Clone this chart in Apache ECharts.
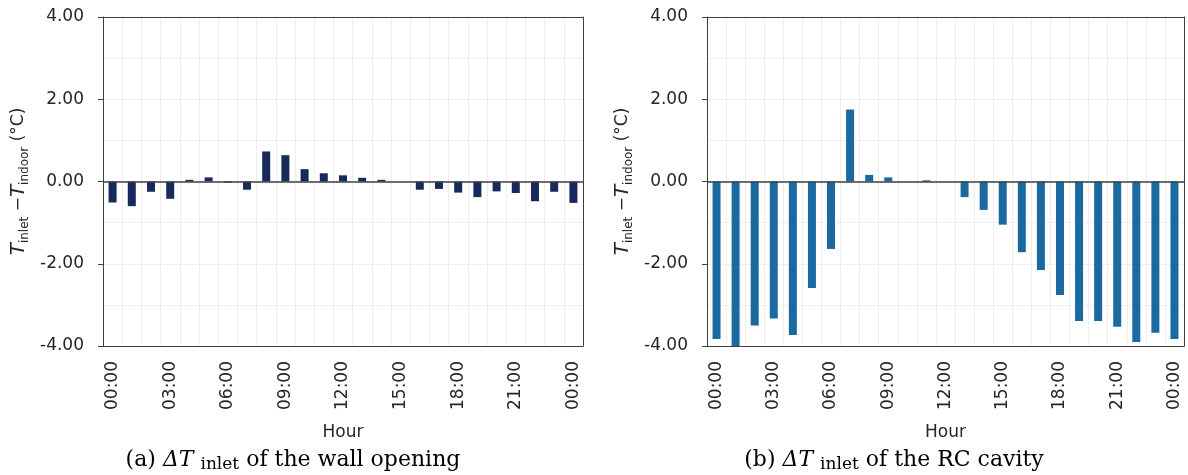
<!DOCTYPE html>
<html>
<head>
<meta charset="utf-8">
<script src="https://cdn.jsdelivr.net/npm/echarts@6/dist/echarts.min.js"></script>
<style>
  html, body { margin: 0; padding: 0; background: #ffffff; }
  #chart { width: 1188px; height: 475px; }
</style>
</head>
<body>
<div id="chart"></div>
<script>
// Hourly categories over one day, ending back at midnight
const hours = ['00:00','01:00','02:00','03:00','04:00','05:00','06:00','07:00','08:00','09:00',
  '10:00','11:00','12:00','13:00','14:00','15:00','16:00','17:00','18:00','19:00',
  '20:00','21:00','22:00','23:00','00:00'];

// Inlet minus indoor temperature (°C), wall opening
const wallOpening = [-0.51, -0.60, -0.25, -0.42, 0.04, 0.10, -0.03, -0.20, 0.73, 0.64,
  0.30, 0.20, 0.15, 0.09, 0.04, 0.00, -0.20, -0.18, -0.27, -0.38,
  -0.24, -0.28, -0.48, -0.25, -0.52];

// Inlet minus indoor temperature (°C), RC cavity
const rcCavity = [-3.83, -4.00, -3.50, -3.33, -3.73, -2.59, -1.64, 1.75, 0.16, 0.10,
  0.00, 0.03, 0.00, -0.38, -0.69, -1.05, -1.72, -2.15, -2.76, -3.39,
  -3.39, -3.53, -3.90, -3.68, -3.83];

const yMin = -4, yMax = 4, yStep = 2;

const SANS = '"DejaVu Sans", sans-serif';
const SERIF = '"DejaVu Serif", serif';
const TEXT = '#262626';
const FRAME = '#404040';
const GRID_LINE = '#eeeeee';

const chart = echarts.init(document.getElementById('chart'), null, { renderer: 'canvas' });

function bottomX(gridIndex) {
  return {
    type: 'category', gridIndex: gridIndex, data: hours, position: 'bottom',
    boundaryGap: true,
    name: 'Hour', nameLocation: 'middle', nameGap: 78,
    nameTextStyle: { fontFamily: SANS, fontSize: 17, color: TEXT },
    axisLine: { onZero: false, lineStyle: { color: FRAME, width: 1 } },
    axisTick: { show: false },
    axisLabel: { interval: 2, rotate: 90, margin: 15, fontFamily: SANS, fontSize: 17, color: TEXT },
    splitLine: { show: true, interval: 0, lineStyle: { color: GRID_LINE, width: 1 } }
  };
}
function topX(gridIndex) {
  return {
    type: 'category', gridIndex: gridIndex, data: hours, position: 'top',
    axisLine: { onZero: false, lineStyle: { color: FRAME, width: 1 } },
    axisTick: { show: false }, axisLabel: { show: false }, splitLine: { show: false }
  };
}
function leftY(gridIndex) {
  return {
    type: 'value', gridIndex: gridIndex, position: 'left',
    min: yMin, max: yMax, interval: yStep,
    name: '{it|T}{sub|inlet} {op|\u2212}{it|T}{sub|indoor} {op|(°C)}',
    nameLocation: 'middle', nameGap: 72,
    nameTextStyle: {
      fontFamily: SANS, fontSize: 17, color: TEXT,
      rich: {
        it: { fontFamily: SANS, fontSize: 20, fontStyle: 'italic', color: TEXT, lineHeight: 24, verticalAlign: 'middle' },
        sub: { fontFamily: SANS, fontSize: 12, color: TEXT, lineHeight: 13, verticalAlign: 'bottom' },
        op: { fontFamily: SANS, fontSize: 17, color: TEXT, lineHeight: 24, verticalAlign: 'middle' }
      }
    },
    axisLine: { show: true, lineStyle: { color: FRAME, width: 1 } },
    axisTick: { show: true, length: 5, lineStyle: { color: FRAME } },
    axisLabel: { margin: 19, fontFamily: SANS, fontSize: 17, color: TEXT,
      formatter: function (v) { return v.toFixed(2); } },
    splitLine: { show: true, lineStyle: { color: GRID_LINE, width: 1 } },
    minorTick: { show: false, splitNumber: 2 },
    minorSplitLine: { show: true, lineStyle: { color: GRID_LINE, width: 1 } }
  };
}
function rightY(gridIndex) {
  return {
    type: 'value', gridIndex: gridIndex, position: 'right',
    min: yMin, max: yMax, interval: yStep,
    axisLine: { show: true, lineStyle: { color: FRAME, width: 1 } },
    axisTick: { show: false }, axisLabel: { show: false }, splitLine: { show: false }
  };
}
function zeroLine() {
  return {
    silent: true, symbol: 'none', animation: false,
    label: { show: false },
    lineStyle: { color: FRAME, type: 'solid', width: 1.5 },
    data: [{ yAxis: 0 }]
  };
}
function caption(x, prefix, rest) {
  return {
    type: 'text', x: x, y: 460,
    style: {
      text: prefix + ' {it|\u0394T} {sub|inlet} ' + rest,
      font: '22px ' + SERIF,
      fontFamily: SERIF, fontSize: 22,
      fill: '#000000',
      textAlign: 'center', align: 'center',
      textVerticalAlign: 'middle', verticalAlign: 'middle',
      rich: {
        it: { fontFamily: SERIF, fontSize: 22, fontStyle: 'italic', fill: '#000000', lineHeight: 26, verticalAlign: 'middle' },
        sub: { fontFamily: SERIF, fontSize: 17, fill: '#000000', lineHeight: 20, verticalAlign: 'bottom' }
      }
    }
  };
}

chart.setOption({
  animation: false,
  backgroundColor: '#ffffff',
  grid: [
    { left: 103, right: 605, top: 17, bottom: 129, containLabel: false },
    { left: 707, right: 4, top: 17, bottom: 129, containLabel: false }
  ],
  xAxis: [bottomX(0), topX(0), bottomX(1), topX(1)],
  yAxis: [leftY(0), rightY(0), leftY(1), rightY(1)],
  series: [
    {
      name: 'Wall opening', type: 'bar', xAxisIndex: 0, yAxisIndex: 0,
      data: wallOpening, barWidth: 8,
      itemStyle: { color: '#182a5c' },
      markLine: zeroLine()
    },
    {
      name: 'RC cavity', type: 'bar', xAxisIndex: 2, yAxisIndex: 2,
      data: rcCavity, barWidth: 8,
      itemStyle: { color: '#1a6aa0' },
      markLine: zeroLine()
    }
  ],
  graphic: [
    caption(293, '(a)', 'of the wall opening'),
    caption(894, '(b)', 'of the RC cavity')
  ]
});
</script>
</body>
</html>
